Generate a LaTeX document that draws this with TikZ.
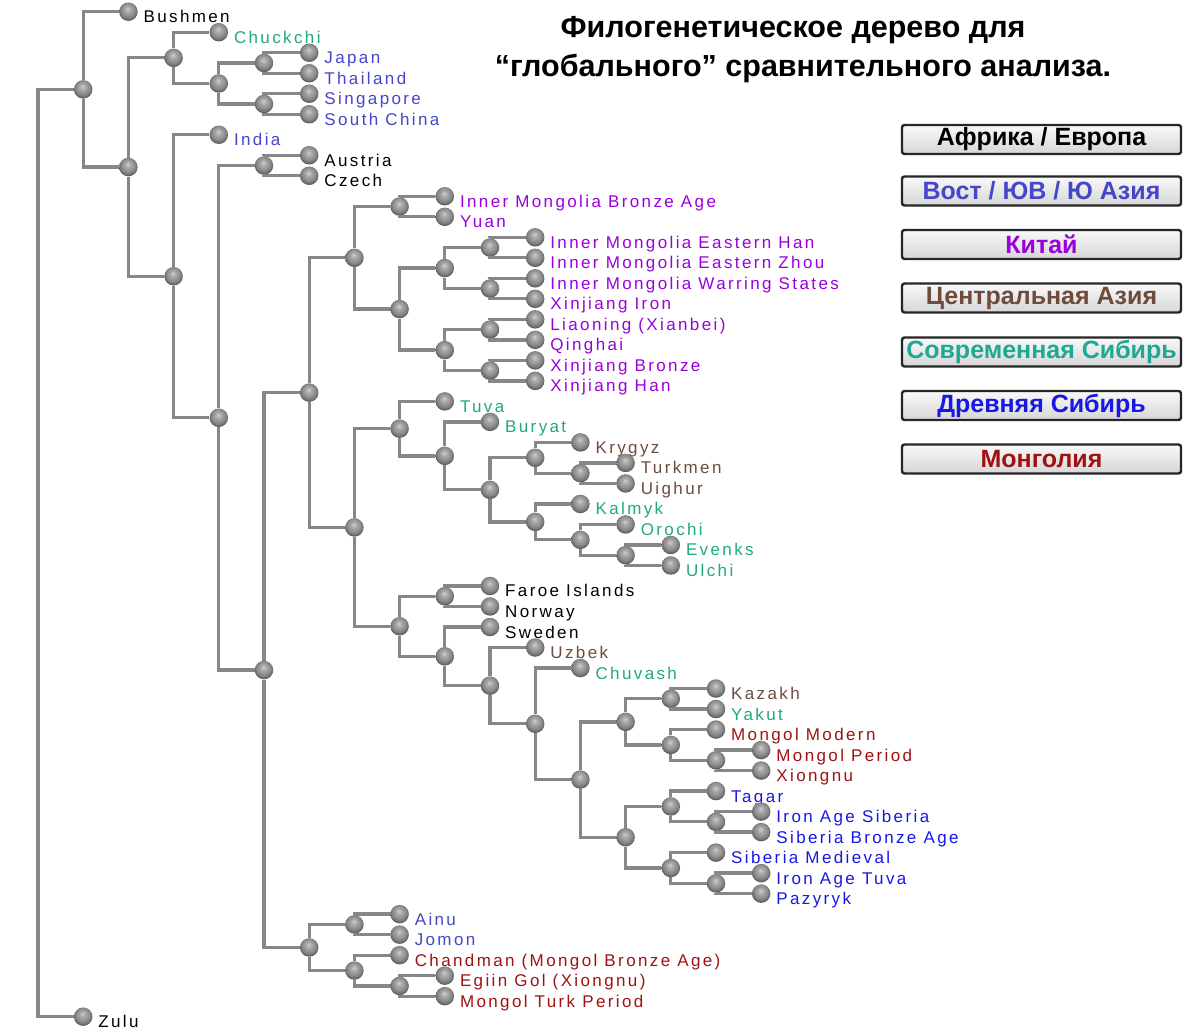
\documentclass[tikz,border=0pt]{standalone}
\usepackage{fontspec}
\setmainfont{Liberation Sans}
\newfontfamily\lblfont[LetterSpace=14]{Liberation Sans}
\usetikzlibrary{calc}
\definecolor{cAfr}{HTML}{000000}
\definecolor{cAsia}{HTML}{4646C8}
\definecolor{cChina}{HTML}{9A00DC}
\definecolor{cCent}{HTML}{6E4C3C}
\definecolor{cSib}{HTML}{22AA78}
\definecolor{cSibL}{HTML}{20A894}
\definecolor{cAnc}{HTML}{1818E6}
\definecolor{cMon}{HTML}{A01212}
\definecolor{edgeCol}{HTML}{878787}
\pgfdeclareradialshading{myball}{\pgfqpoint{-2bp}{8bp}}{color(0bp)=(gray!38); color(8bp)=(gray!68); color(17bp)=(gray!88); color(23bp)=(gray!92!black); color(25bp)=(gray!75!black); color(50bp)=(gray!75!black)}
\newcommand\leaf[5]{%
  \node[ball] (#1) at ({38+45.2*#2},{11.7+20.51*#3}) {};
  \node[lbl, text=#4] (#1-t) at ([xshift=15pt,yshift=-11pt]#1.center) {#5};}
\newcommand\inode[4]{%
  \path let \p1=(#3), \p2=(#4) in node[ball] (#1) at ({(38+45.2*#2)*1pt},{0.5*\y1+0.5*\y2}) {};
  \draw[edge] (#1) |- (#3);
  \draw[edge] (#1) |- (#4);}
\begin{document}
\begin{tikzpicture}[x=1pt,y=-1pt,
  ball/.style={circle, minimum size=18.5pt, inner sep=0pt, shade, shading=myball},
  edge/.style={draw=edgeCol, line width=3.3pt},
  lbl/.style={anchor=base west, inner sep=0pt, font=\lblfont\fontsize{17}{19}\selectfont},
  title/.style={anchor=base, inner sep=0pt, font=\bfseries\fontsize{30.5}{34}\selectfont},
  legbox/.style={draw=black!85, line width=2.4pt, rounded corners=2.5pt, minimum width=279pt,
    minimum height=29pt, top color=gray!5, middle color=gray!9, bottom color=gray!32,
    inner sep=0pt, font=\bfseries\fontsize{25}{28}\selectfont}]
\useasboundingbox (0,0) rectangle (1200,1032);
\fill[white] (0,0) rectangle (1200,1032);
% leaves
\leaf{bushmen}{2}{0}{cAfr}{Bushmen}
\leaf{chuckchi}{4}{1}{cSib}{Chuckchi}
\leaf{japan}{6}{2}{cAsia}{Japan}
\leaf{thailand}{6}{3}{cAsia}{Thailand}
\leaf{singapore}{6}{4}{cAsia}{Singapore}
\leaf{schina}{6}{5}{cAsia}{South China}
\leaf{india}{4}{6}{cAsia}{India}
\leaf{austria}{6}{7}{cAfr}{Austria}
\leaf{czech}{6}{8}{cAfr}{Czech}
\leaf{imba}{9}{9}{cChina}{Inner Mongolia Bronze Age}
\leaf{yuan}{9}{10}{cChina}{Yuan}
\leaf{imeh}{11}{11}{cChina}{Inner Mongolia Eastern Han}
\leaf{imez}{11}{12}{cChina}{Inner Mongolia Eastern Zhou}
\leaf{imws}{11}{13}{cChina}{Inner Mongolia Warring States}
\leaf{xji}{11}{14}{cChina}{Xinjiang Iron}
\leaf{liao}{11}{15}{cChina}{Liaoning (Xianbei)}
\leaf{qing}{11}{16}{cChina}{Qinghai}
\leaf{xjb}{11}{17}{cChina}{Xinjiang Bronze}
\leaf{xjh}{11}{18}{cChina}{Xinjiang Han}
\leaf{tuva}{9}{19}{cSib}{Tuva}
\leaf{buryat}{10}{20}{cSib}{Buryat}
\leaf{krygyz}{12}{21}{cCent}{Krygyz}
\leaf{turkmen}{13}{22}{cCent}{Turkmen}
\leaf{uighur}{13}{23}{cCent}{Uighur}
\leaf{kalmyk}{12}{24}{cSib}{Kalmyk}
\leaf{orochi}{13}{25}{cSib}{Orochi}
\leaf{evenks}{14}{26}{cSib}{Evenks}
\leaf{ulchi}{14}{27}{cSib}{Ulchi}
\leaf{faroe}{10}{28}{cAfr}{Faroe Islands}
\leaf{norway}{10}{29}{cAfr}{Norway}
\leaf{sweden}{10}{30}{cAfr}{Sweden}
\leaf{uzbek}{11}{31}{cCent}{Uzbek}
\leaf{chuvash}{12}{32}{cSib}{Chuvash}
\leaf{kazakh}{15}{33}{cCent}{Kazakh}
\leaf{yakut}{15}{34}{cSib}{Yakut}
\leaf{mongmod}{15}{35}{cMon}{Mongol Modern}
\leaf{mongper}{16}{36}{cMon}{Mongol Period}
\leaf{xiongnu}{16}{37}{cMon}{Xiongnu}
\leaf{tagar}{15}{38}{cAnc}{Tagar}
\leaf{ias}{16}{39}{cAnc}{Iron Age Siberia}
\leaf{sba}{16}{40}{cAnc}{Siberia Bronze Age}
\leaf{sibmed}{15}{41}{cAnc}{Siberia Medieval}
\leaf{iat}{16}{42}{cAnc}{Iron Age Tuva}
\leaf{pazyryk}{16}{43}{cAnc}{Pazyryk}
\leaf{ainu}{8}{44}{cAsia}{Ainu}
\leaf{jomon}{8}{45}{cAsia}{Jomon}
\leaf{chandman}{8}{46}{cMon}{Chandman (Mongol Bronze Age)}
\leaf{egiin}{9}{47}{cMon}{Egiin Gol (Xiongnu)}
\leaf{mturk}{9}{48}{cMon}{Mongol Turk Period}
\leaf{zulu}{1}{49}{cAfr}{Zulu}
% internal nodes
\inode{F}{5}{japan}{thailand}
\inode{G}{5}{singapore}{schina}
\inode{E}{4}{F}{G}
\inode{C}{3}{chuckchi}{E}
\inode{I}{5}{austria}{czech}
\inode{O}{8}{imba}{yuan}
\inode{Q1}{10}{imeh}{imez}
\inode{Q2}{10}{imws}{xji}
\inode{Q}{9}{Q1}{Q2}
\inode{S1}{10}{liao}{qing}
\inode{S2}{10}{xjb}{xjh}
\inode{S}{9}{S1}{S2}
\inode{P}{8}{Q}{S}
\inode{M}{7}{O}{P}
\inode{X1}{12}{turkmen}{uighur}
\inode{X}{11}{krygyz}{X1}
\inode{Y2}{13}{evenks}{ulchi}
\inode{Y1}{12}{orochi}{Y2}
\inode{Y}{11}{kalmyk}{Y1}
\inode{W}{10}{X}{Y}
\inode{V}{9}{buryat}{W}
\inode{T}{8}{tuva}{V}
\inode{U1}{9}{faroe}{norway}
\inode{Z3}{14}{kazakh}{yakut}
\inode{Z5}{15}{mongper}{xiongnu}
\inode{Z4}{14}{mongmod}{Z5}
\inode{Z1}{13}{Z3}{Z4}
\inode{Z8}{15}{ias}{sba}
\inode{Z6}{14}{tagar}{Z8}
\inode{Z9}{15}{iat}{pazyryk}
\inode{Z7}{14}{sibmed}{Z9}
\inode{Z2}{13}{Z6}{Z7}
\inode{U5}{12}{Z1}{Z2}
\inode{U4}{11}{chuvash}{U5}
\inode{U3}{10}{uzbek}{U4}
\inode{U2}{9}{sweden}{U3}
\inode{U}{8}{U1}{U2}
\inode{N}{7}{T}{U}
\inode{K}{6}{M}{N}
\inode{L1}{7}{ainu}{jomon}
\inode{L3}{8}{egiin}{mturk}
\inode{L2}{7}{chandman}{L3}
\inode{L}{6}{L1}{L2}
\inode{J}{5}{K}{L}
\inode{H}{4}{I}{J}
\inode{D}{3}{india}{H}
\inode{B}{2}{C}{D}
\inode{A}{1}{bushmen}{B}
\path let \p1=(A), \p2=(zulu) in coordinate (R) at (38pt,{0.5*\y1+0.5*\y2});
\draw[edge] (R) |- (A);
\draw[edge] (R) |- (zulu);
% title
\node[title] (t1) at (793,38) {Филогенетическое дерево для};
\node[title] (t2) at (803,77) {“глобального” сравнительного анализа.};
% legend
\node[legbox, text=cAfr] (lg1) at (1041.5,139.5) {Африка / Европа};
\node[legbox, text=cAsia] (lg2) at (1041.5,191) {Вост / ЮВ / Ю Азия};
\node[legbox, text=cChina] (lg3) at (1041.5,244.5) {Китай};
\node[legbox, text=cCent] (lg4) at (1041.5,298) {Центральная Азия};
\node[legbox, text=cSibL] (lg5) at (1041.5,352) {Современная Сибирь};
\node[legbox, text=cAnc] (lg6) at (1041.5,405.5) {Древняя Сибирь};
\node[legbox, text=cMon] (lg7) at (1041.5,459) {Монголия};
\end{tikzpicture}
\end{document}
